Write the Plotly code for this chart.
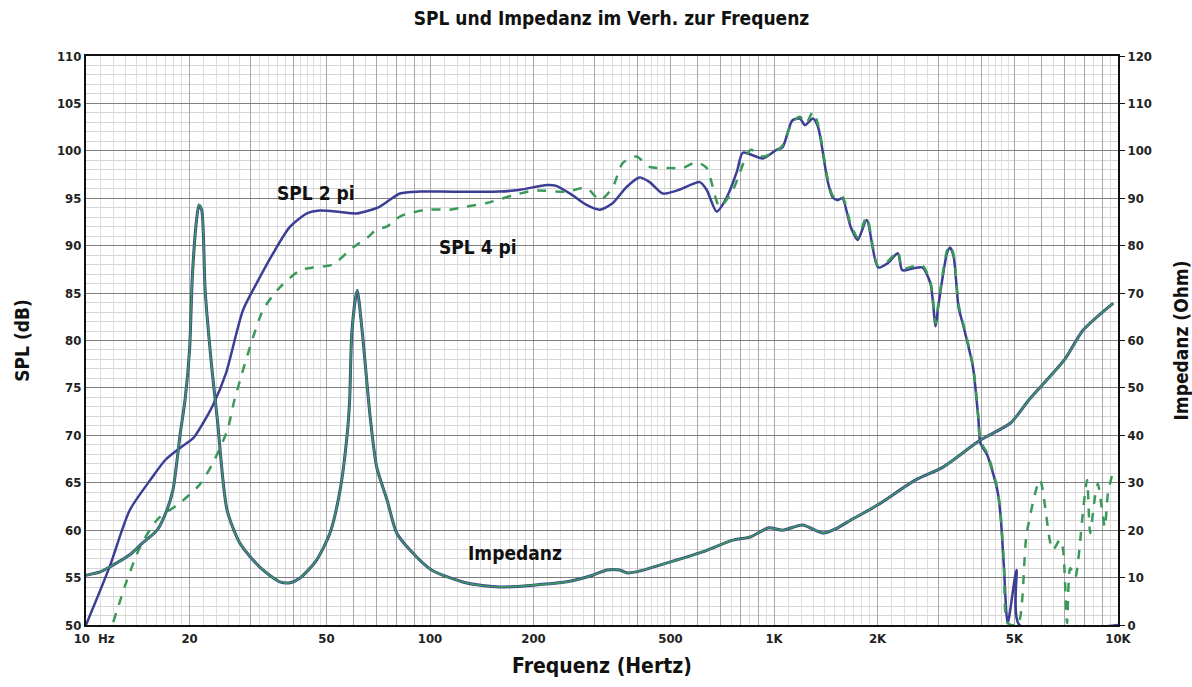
import numpy as np
import plotly.graph_objects as go

# ---------------- data ----------------
spl2_freq = [10, 11.7, 13.4, 15.6, 17.0, 18.8, 20.5, 21.9, 23.4, 25.5, 28.6, 31.4, 35.0,
             39.2, 43.9, 47.8, 54.8, 61.3, 71.3, 81.8, 93.4, 107, 159, 183, 219, 233, 260,
             285, 312, 340, 373, 406, 435, 475, 531, 608, 637, 681, 729, 780, 812, 929,
             1017, 1060, 1130, 1190, 1230, 1297, 1343, 1430, 1480, 1530, 1580, 1670, 1750,
             1860, 2006, 2150, 2290, 2360, 2530, 2700, 2850, 2950, 3000, 3184, 3250, 3330,
             3440, 3560, 3787, 3930, 3980, 4170, 4460, 4560, 4660, 4780, 5070, 5170, 10000]
spl2_db = [50, 56.1, 62.1, 65.6, 67.4, 68.7, 69.7, 71.3, 73.2, 76.5, 83.2, 86.1, 89.2,
           92.0, 93.4, 93.7, 93.55, 93.4, 94.1, 95.5, 95.7, 95.7, 95.7, 95.9, 96.4, 96.3, 95.3,
           94.3, 93.8, 94.5, 96.2, 97.2, 96.7, 95.5, 95.9, 96.7, 95.9, 93.6, 95.1, 97.8, 99.8, 99.2,
           100.1, 100.4, 103.2, 103.4, 102.7, 103.4, 102.5, 96.9, 95.1, 94.8, 95.0, 92.0, 90.6,
           92.7, 87.7, 88.2, 89.2, 87.4, 87.6, 87.7, 86.0, 81.5, 83.5, 89.2, 89.8, 88.8,
           83.5, 81.4, 77.2, 71.6, 69.2, 67.9, 64.2, 61.4, 56.1, 50.2, 55.8, 50, 50]

spl4_freq = [12.0, 13.15, 14.35, 16.1, 18.8, 21.4, 23.4, 25.8, 27.0, 32.7, 36.6, 41.9, 45.7,
             52, 59.7, 65.5, 70, 74.8, 82, 98, 114, 127, 146, 174, 200, 250, 285, 312, 340,
             363, 398, 435, 490, 544, 594, 637, 695, 760, 855, 929, 1017, 1060, 1130, 1190,
             1240, 1297, 1343, 1430, 1480, 1530, 1580, 1670, 1750, 1860, 2006, 2150, 2290,
             2360, 2530, 2700, 2850, 2950, 3000, 3184, 3250, 3330, 3440, 3560, 3787, 3930,
             3980, 4170, 4460, 4560, 4660, 4780, 5110, 5430, 5930, 6330, 6470, 6780, 6920,
             7110, 7260, 7510, 7660, 7920, 8130, 8300, 8570, 8740, 8990, 9160, 9350, 9690]
spl4_db = [50.3, 54.7, 58.2, 61.1, 62.9, 64.8, 67.1, 70.6, 73.7, 83.2, 85.6, 87.4, 87.7,
           88.0, 89.8, 90.8, 91.7, 92.0, 93.1, 93.8, 93.8, 94.1, 94.5, 95.3, 95.8, 95.7, 96.1,
           94.8, 96.2, 98.7, 99.4, 98.3, 98.2, 98.2, 98.8, 98.2, 94.1, 95.9, 100.1, 99.4,
           100.0, 100.6, 103.0, 103.6, 102.9, 104.1, 102.8, 97.2, 95.3, 95.0, 95.2, 92.3, 90.9,
           93.0, 87.9, 88.4, 89.4, 87.6, 87.8, 87.9, 86.2, 81.8, 83.7, 89.5, 90.0, 89.0, 83.8,
           81.6, 77.4, 71.8, 69.4, 68.1, 64.4, 61.6, 56.3, 50.2, 50, 59.7, 65.3, 59.0, 57.9,
           59.0, 58.0, 50.2, 56.0, 55.0, 56.8, 62.1, 65.3, 59.7, 63.5, 64.9, 62.1, 60.3, 63.9,
           66.3]

imp_freq = [10, 11, 11.7, 13.4, 14.6, 16.1, 17.2, 17.9, 18.8, 19.4, 20.0, 20.4, 21.0, 21.3,
            21.7, 22.2, 23.2, 24.1, 25.7, 28.0, 32.0, 36.6, 39.2, 41.9, 46.8, 51.2, 54.8, 57.5,
            58.4, 59.3, 61.4, 63.5, 67.0, 70, 75, 80, 87.5, 101, 127, 159, 200, 250, 297, 327,
            356, 373, 397, 489, 608, 760, 855, 966, 1060, 1210, 1390, 1530, 1670, 2000, 2580,
            3100, 3980, 4870, 5500, 7000, 7920, 9690]
imp_ohm = [10.5, 11.2, 12.2, 14.8, 17.3, 20.0, 24.3, 28.5, 40.5, 47.4, 58.0, 74.2, 86.0, 88.6,
           87.5, 70.6, 54.4, 43.2, 24.3, 17.3, 12.2, 9.1, 8.9, 9.9, 13.7, 19.4, 28.5, 40.5,
           47.4, 62.0, 70.6, 62.0, 43.9, 33.3, 26.4, 19.4, 15.8, 11.6, 8.9, 8.0, 8.4, 9.1, 10.5,
           11.6, 11.6, 11.0, 11.2, 13.1, 15.2, 17.9, 18.6, 20.5, 20.0, 21.1, 19.4, 20.5, 22.1,
           25.3, 30.6, 33.3, 39.0, 42.6, 47.4, 56.0, 62.2, 67.9]

x_tick_vals = [10, 20, 50, 100, 200, 500, 1000, 2000, 5000, 10000]
x_tick_text = ["\u00a0\u00a0\u00a0\u00a010\u00a0\u00a0Hz", "20", "50", "100", "200", "500",
               "1K", "2K", "5K", "10K"]

# ---------------- styling ----------------
BLUE = "#3c3d94"
GREEN = "#3b9a5a"
FONT = "Liberation Sans Narrow, DejaVu Sans Condensed, Arial Narrow, sans-serif"

# log-paper grid: major at every integer multiple of a decade, minor subdivisions
major_x = []
minor_x = []
for d in [10, 100, 1000]:
    for m in range(1, 10):
        major_x.append(m * d)
        n = 10 if m < 2 else (5 if m < 5 else 2)
        for k in range(1, n):
            minor_x.append((m + k / n) * d)
major_x.append(10000)
major_text = [x_tick_text[x_tick_vals.index(v)] if v in x_tick_vals else "" for v in major_x]

fig = go.Figure()
fig.add_trace(go.Scatter(x=imp_freq, y=imp_ohm, yaxis="y2", mode="lines",
                         line=dict(color=BLUE, width=3, shape="spline", smoothing=0.7),
                         showlegend=False, hoverinfo="skip"))
fig.add_trace(go.Scatter(x=imp_freq, y=imp_ohm, yaxis="y2", mode="lines",
                         line=dict(color=GREEN, width=1.6, shape="spline", smoothing=0.7),
                         showlegend=False, name="Impedanz"))
fig.add_trace(go.Scatter(x=spl2_freq, y=spl2_db, mode="lines",
                         line=dict(color=BLUE, width=2.5, shape="spline", smoothing=0.7),
                         showlegend=False, name="SPL 2 pi"))
fig.add_trace(go.Scatter(x=spl4_freq, y=spl4_db, mode="lines",
                         line=dict(color=GREEN, width=2.5, dash="dash", shape="spline", smoothing=0.7),
                         showlegend=False, name="SPL 4 pi"))

fig.update_layout(
    width=1192, height=687,
    margin=dict(l=86, r=74, t=56, b=62, autoexpand=False),
    paper_bgcolor="white", plot_bgcolor="white",
    font=dict(family=FONT, color="#1a1a1a", size=13),
    title=dict(text="<b>SPL und Impedanz im Verh. zur Frequenz</b>",
               x=0.513, xanchor="center", y=0.973, yanchor="middle",
               font=dict(size=19, family=FONT, color="#111")),
    xaxis=dict(type="log", range=[1, 4], automargin=False,
               tickmode="array", tickvals=major_x,
               ticktext=["<b>%s</b>" % t if t else "" for t in major_text],
               showgrid=True, gridcolor="#a8a8a8", gridwidth=1,
               minor=dict(tickmode="array", tickvals=minor_x, showgrid=True,
                          gridcolor="#dedede", gridwidth=1),
               showline=True, linecolor="#111", linewidth=2, mirror=True,
               ticks="", tickfont=dict(size=13, family=FONT, color="#222"),
               title=dict(text="<b>Frequenz (Hertz)</b>", font=dict(size=21, family=FONT, color="#111"),
                          standoff=14),
               zeroline=False),
    yaxis=dict(range=[50, 110], tickmode="linear", tick0=50, dtick=5, automargin=False,
               showgrid=True, gridcolor="#808080", gridwidth=1,
               minor=dict(dtick=1, showgrid=True, gridcolor="#d6d6d6", gridwidth=1),
               showline=True, linecolor="#111", linewidth=2, mirror=True,
               ticks="", tickfont=dict(size=13, family=FONT, color="#222"),
               tickprefix="<b>", ticksuffix="</b>",
               title=dict(text="<b>SPL (dB)</b>", font=dict(size=19, family=FONT, color="#111"),
                          standoff=22),
               zeroline=False),
    yaxis2=dict(range=[0, 120], overlaying="y", side="right", tickmode="linear", tick0=0, dtick=10,
                automargin=False,
                showgrid=False, showline=True, linecolor="#111", linewidth=2,
                ticks="outside", ticklen=5, tickcolor="#111",
                tickfont=dict(size=13, family=FONT, color="#222"),
                tickprefix="<b>", ticksuffix="</b>",
                title=dict(text="<b>Impedanz (Ohm)</b>", font=dict(size=19, family=FONT, color="#111"),
                           standoff=26),
                zeroline=False),
)

label_font = dict(size=19, family=FONT, color="#111")
fig.add_annotation(x=1.669, y=95.6, xref="x", yref="y", text="<b>SPL 2 pi</b>",
                   showarrow=False, font=label_font)
fig.add_annotation(x=2.140, y=89.9, xref="x", yref="y", text="<b>SPL 4 pi</b>",
                   showarrow=False, font=label_font)
fig.add_annotation(x=2.247, y=57.6, xref="x", yref="y", text="<b>Impedanz</b>",
                   showarrow=False, font=label_font)

fig.write_html("out.html")
